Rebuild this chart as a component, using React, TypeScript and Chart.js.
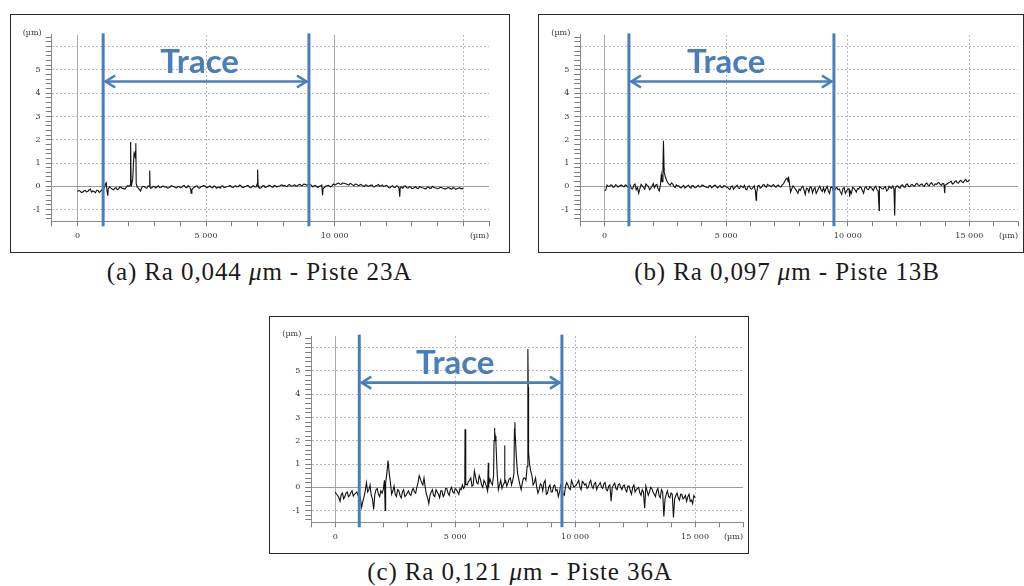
import React, { useEffect, useRef } from "react";
import { Chart, registerables } from "chart.js";

Chart.register(...registerables);

// ---- sampling step of the profile (µm); main samples at i*STEP, mid samples at i*STEP + STEP/2 ----
const STEP = 100;

// ---- Panel (a) Ra 0,044 µm - Piste 23A : heights (µm) from 0 to 15 000 µm ----
const PROFILE_A = [
  -0.22, -0.2, -0.25, -0.18, -0.22, -0.12, -0.2, -0.28, -0.18, -0.22, -0.14,
  0.12, -0.1, -0.08, -0.15, -0.05, -0.12, -0.04, -0.1, -0.03, 0.0,
  0.05, 1.4, 0.05, -0.12, -0.05, -0.02, -0.08, 0.0, -0.05, -0.02,
  -0.02, -0.06, 0.0, -0.04, -0.08, -0.03, 0.0, -0.05, -0.02, -0.06,
  0.02, -0.04, 0.03, -0.1, -0.08, 0.0, -0.06, -0.02, 0.03, -0.04,
  -0.02, -0.05, 0.0, -0.08, -0.03, 0.0, -0.06, -0.02, 0.02, -0.04,
  0.0, -0.03, 0.05, -0.04, -0.02, 0.03, -0.05, 0.0, -0.03, 0.05,
  -0.08, 0.02, -0.05, 0.0, 0.03, -0.04, 0.02, 0.0, 0.05, 0.02,
  0.0, 0.06, 0.02, 0.05, 0.0, 0.07, 0.03, 0.1, 0.05, 0.1,
  0.04, 0.02, -0.02, 0.0, 0.05, -0.05, 0.02, 0.0, 0.03, 0.06,
  0.12, 0.1, 0.14, 0.12, 0.08, 0.12, 0.06, 0.1, 0.05, 0.08,
  0.02, 0.06, 0.0, 0.04, -0.02, 0.03, 0.08, 0.02, 0.0, 0.04,
  -0.05, 0.0, -0.04, 0.02, -0.08, -0.03, 0.0, -0.06, -0.02, -0.1,
  -0.05, -0.08, -0.02, -0.06, -0.1, -0.04, -0.08, 0.0, -0.06, -0.1,
  -0.04, -0.08, -0.12, -0.05, -0.1, -0.06, -0.12, -0.08, -0.1, -0.12,
];
const MID_A = [
  -0.18, -0.26, -0.2, -0.24, -0.16, -0.25, -0.22, -0.17, -0.26, -0.15,
  -0.05, -0.2, -0.02, -0.12, -0.09, -0.14, -0.02, -0.09, -0.12, 0.03,
  0.05, 0.3, 1.5, -0.05, -0.2, 0.0, -0.06, 0.02, -0.08, 0.0,
  -0.07, 0.02, -0.05, 0.01, -0.02, -0.06, 0.03, -0.01, -0.07, 0.0,
  -0.05, 0.04, -0.06, -0.02, -0.15, -0.04, 0.02, -0.08, 0.0, 0.02,
  -0.06, 0.02, -0.07, 0.01, -0.05, -0.08, 0.02, -0.04, -0.01, 0.03,
  -0.05, 0.02, -0.02, 0.04, -0.06, 0.0, 0.02, -0.06, 0.03, -0.02,
  -0.03, -0.06, 0.04, -0.03, 0.05, -0.02, 0.04, -0.03, 0.0, 0.06,
  0.04, -0.01, 0.07, 0.01, 0.06, 0.02, 0.08, 0.04, 0.09, 0.06,
  0.08, -0.03, 0.04, -0.05, 0.02, -0.1, 0.0, 0.04, -0.02, 0.1,
  0.08, 0.14, 0.08, 0.13, 0.1, 0.05, 0.1, 0.02, 0.09, 0.03,
  0.06, -0.01, 0.05, 0.02, 0.06, -0.03, 0.05, 0.0, 0.06, 0.01,
  0.02, -0.07, 0.03, -0.06, 0.0, -0.05, -0.09, 0.02, -0.08, -0.03,
  -0.08, -0.02, -0.1, -0.04, -0.07, -0.11, -0.03, -0.09, -0.04, -0.07,
  -0.08, -0.05, -0.09, -0.1, -0.06, -0.12, -0.07, -0.11, -0.06, -0.09,
];
// narrow peaks / pits [x µm, height µm]
const PEAKS_A: [number, number][] = [
  [1120, 0.15], [1180, -0.4], [2060, 0.25], [2075, 1.9], [2090, 0.02],
  [2180, 1.0], [2230, 1.3], [2270, 1.85], [2285, 0.1],
  [2810, 0.68], [2825, -0.05], [4420, -0.3], [6990, 0.1], [7010, 0.72],
  [7025, 0.02], [9530, -0.38], [12530, -0.45],
];

// ---- Panel (b) Ra 0,097 µm - Piste 13B ----
const PROFILE_B = [
  -0.2, 0.05, 0.0, 0.05, -0.02, 0.04, 0.0, 0.05, -0.03, 0.04, 0.0,
  -0.1, 0.05, -0.15, -0.3, 0.08, -0.05, 0.1, 0.0, -0.08, 0.12,
  0.05, -0.12, 0.1, 0.9, 0.4, 0.15, 0.05, 0.1, -0.05, 0.02,
  -0.05, 0.0, -0.08, 0.02, -0.04, 0.03, -0.06, 0.0, -0.03, 0.05,
  0.0, -0.05, 0.02, -0.06, 0.04, -0.02, 0.0, -0.05, 0.02, -0.03,
  -0.1, -0.02, -0.12, 0.0, -0.08, 0.03, -0.05, -0.12, 0.0, -0.1,
  -0.05, -0.2, 0.02, -0.08, 0.05, 0.0, 0.08, 0.02, 0.05, 0.0,
  0.04, -0.02, 0.06, 0.2, 0.35, 0.15, -0.1, -0.05, -0.2, -0.12,
  -0.05, -0.15, -0.08, -0.25, -0.05, -0.12, -0.3, -0.08, -0.15, -0.05,
  -0.1, -0.2, -0.05, -0.18, -0.08, -0.15, -0.25, -0.1, -0.3, -0.12,
  -0.2, -0.05, -0.15, -0.1, -0.02, -0.18, -0.06, -0.12, -0.02, -0.1,
  -0.05, -0.15, -0.02, -0.1, -0.05, -0.2, 0.0, -0.08, -0.12, 0.0,
  -0.05, 0.05, -0.02, 0.08, 0.0, 0.06, 0.02, 0.1, 0.05, 0.08,
  0.02, 0.1, 0.05, 0.12, 0.06, 0.1, 0.14, 0.08, 0.12, 0.05,
  0.12, 0.18, 0.1, 0.2, 0.15, 0.22, 0.18, 0.25, 0.2, 0.28,
];
const MID_B = [
  -0.15, 0.0, 0.06, -0.04, 0.07, -0.03, 0.04, 0.01, 0.06, -0.04,
  0.06, -0.12, 0.1, -0.05, -0.1, 0.02, -0.12, 0.04, -0.14, 0.0,
  -0.06, 0.08, -0.2, 0.35, 0.6, 0.25, 0.08, 0.15, 0.0, 0.06,
  0.02, -0.07, 0.04, -0.03, 0.05, -0.08, 0.02, -0.05, 0.04, -0.02,
  0.04, -0.02, -0.06, 0.03, -0.03, 0.05, -0.07, 0.03, -0.06, 0.02,
  -0.04, -0.14, 0.02, -0.06, 0.05, -0.1, -0.02, 0.04, -0.15, 0.02,
  -0.12, 0.02, -0.3, 0.04, -0.05, 0.08, -0.04, 0.04, -0.02, 0.07,
  -0.04, 0.05, -0.03, 0.1, 0.3, 0.2, -0.25, 0.02, -0.12, -0.3,
  -0.18, 0.0, -0.35, -0.1, -0.02, -0.28, -0.05, -0.2, 0.0, -0.22,
  -0.25, 0.0, -0.3, -0.02, -0.2, -0.05, -0.12, -0.35, -0.05, -0.2,
  -0.1, -0.3, -0.08, -0.25, -0.12, -0.06, -0.3, -0.02, -0.15, -0.05,
  -0.18, 0.0, -0.2, -0.05, -0.12, -0.02, -0.15, -0.05, 0.02, -0.1,
  0.02, -0.08, 0.06, -0.04, 0.1, -0.02, 0.08, 0.0, 0.12, 0.02,
  0.1, 0.0, 0.14, 0.02, 0.15, 0.04, 0.08, 0.16, 0.04, 0.1,
  0.08, 0.15, 0.22, 0.12, 0.24, 0.14, 0.26, 0.16, 0.3, 0.22,
];
const PEAKS_B: [number, number][] = [
  [2330, 0.5], [2360, 0.2], [2420, 1.95], [2445, 0.8], [6230, -0.6],
  [7560, 0.42], [10080, -0.45], [11290, -1.04], [11930, -1.25], [13990, -0.3],
];

// ---- Panel (c) Ra 0,121 µm - Piste 36A ----
const PROFILE_C = [
  -0.2, -0.35, -0.6, -0.25, -0.4, -0.2, -0.35, -0.15, -0.3, -0.2, -0.28,
  -0.85, -0.4, 0.2, -0.1, -0.35, -0.95, -0.1, -0.3, -0.15, -0.1,
  0.2, 1.15, 0.2, -0.15, -0.3, -0.1, -0.35, -0.2, -0.4, -0.25,
  -0.3, -0.15, -0.2, 0.0, 0.5, 0.2, 0.4, -0.3, -0.7, -0.2,
  -0.35, -0.1, -0.3, -0.15, -0.4, -0.05, -0.25, -0.1, -0.2, -0.05,
  -0.2, -0.05, 0.1, 0.05, 0.1, 0.3, 0.05, 0.7, 0.2, 0.5,
  0.1, 0.3, 0.05, 0.1, 0.2, 0.5, 1.9, -0.1, 0.3, 0.1,
  0.3, 0.2, 0.4, 0.3, 2.3, 0.6, 0.1, 0.2, 0.4, 0.9,
  1.0, 0.5, 0.2, 0.0, -0.1, 0.1, 0.2, -0.3, 0.0, -0.2,
  0.05, -0.15, -0.4, 0.1, -0.3, 0.05, 0.1, -0.1, 0.15, 0.05,
  0.2, 0.0, 0.25, 0.1, -0.05, 0.2, 0.05, 0.15, -0.1, 0.12,
  0.0, 0.15, -0.1, 0.05, -0.6, 0.1, -0.05, 0.12, 0.0, 0.05,
  -0.1, 0.05, -0.15, 0.0, -0.2, -0.05, -0.25, -0.1, -0.9, -0.15,
  -0.2, -0.05, -0.3, -0.15, -0.35, -0.1, -1.25, -0.3, -0.4, -0.25,
  -1.3, -0.35, -0.45, -0.3, -0.5, -0.35, -0.4, -0.6, -0.7, -0.45,
];
const MID_C = [
  -0.3, -0.45, -0.3, -0.5, -0.25, -0.4, -0.22, -0.38, -0.25, -0.35,
  -0.5, -0.6, -0.15, -0.2, 0.1, -0.5, -0.3, -0.05, -0.4, -0.25,
  0.3, 0.6, 0.6, -0.3, 0.05, -0.4, -0.15, -0.45, -0.1, -0.35,
  -0.15, -0.35, -0.05, -0.25, 0.2, 0.35, 0.1, 0.0, -0.45, -0.35,
  -0.1, -0.4, -0.2, -0.45, -0.15, -0.3, -0.05, -0.35, 0.0, -0.25,
  -0.1, -0.3, -0.1, -0.05, 0.15, 0.25, 0.4, 0.1, 0.45, 0.15,
  0.35, 0.0, 0.2, -0.15, 0.35, 0.1, 2.4, 0.6, 0.1, -0.05,
  0.2, 0.05, 0.35, 0.1, 0.6, 1.3, 0.35, -0.1, 0.4, 0.3,
  3.0, 0.7, 0.1, 0.4, -0.25, 0.15, -0.15, 0.3, -0.25, 0.1,
  -0.2, 0.1, -0.1, -0.2, 0.05, -0.35, 0.2, -0.05, 0.3, 0.0,
  0.1, 0.3, -0.1, 0.2, 0.15, 0.0, 0.3, -0.05, 0.2, 0.05,
  0.2, -0.05, 0.2, -0.15, 0.1, 0.0, 0.18, -0.1, 0.15, -0.1,
  0.1, -0.2, 0.05, -0.3, 0.1, -0.1, 0.0, -0.35, -0.2, 0.05,
  -0.35, 0.0, -0.2, -0.4, -0.05, -0.45, -0.2, -0.5, -0.15, -0.45,
  -0.3, -0.5, -0.25, -0.55, -0.3, -0.45, -0.6, -0.3, -0.55, -0.35,
];
const PEAKS_C: [number, number][] = [
  [2080, -1.0], [5410, 2.5], [5430, 0.1],
  [6380, 1.05], [6395, 0.0], [6620, 2.0], [6640, 2.55], [6670, 2.2],
  [7060, 1.8], [7075, 0.3], [7470, 2.5], [7490, 2.8],
  [8030, 5.95], [8045, 4.3], [8070, 1.5],
];

// ---- axes ----
const Y_MIN = -1.5;
const Y_MAX = 6.5;
const Y_LABELS = [-1, 0, 1, 2, 3, 4, 5];
const X_MIN = -1000;
const X_STEP = 1000;

// ---- captions ----
const CAPTIONS = [
  { tag: "(a)", ra: "0,044", piste: "23A" },
  { tag: "(b)", ra: "0,097", piste: "13B" },
  { tag: "(c)", ra: "0,121", piste: "36A" },
];

const BLUE = "#4a7ebb";
const TICK_FONT = { family: "'DejaVu Serif', serif", size: 8 };

function buildProfile(base: number[], mid: number[], extra: [number, number][]) {
  const byX = new Map<number, number>();
  base.forEach((y, i) => byX.set(i * STEP, y));
  mid.forEach((y, i) => byX.set(i * STEP + STEP / 2, y));
  extra.forEach(([x, y]) => byX.set(x, y));
  return Array.from(byX.entries())
    .map(([x, y]) => ({ x, y }))
    .sort((a, b) => a.x - b.x);
}

function fmtX(v: number) {
  if (v === 0) return "0";
  return `${Math.round(v / 1000)} 000`;
}

type PanelProps = {
  left: number;
  top: number;
  width: number;
  height: number;
  profile: number[];
  mid: number[];
  peaks: [number, number][];
  xMax: number;
  labelMax: number;
  solidX: number[];
  traceStart: number;
  traceEnd: number;
  traceLabelX: number;
  padTop: number;
  padRight: number;
  yWidth: number;
  xHeight: number;
};

function Panel(p: PanelProps) {
  const ref = useRef<HTMLCanvasElement | null>(null);
  useEffect(() => {
    if (!ref.current) return;
    const points = buildProfile(p.profile, p.mid, p.peaks);
    const overlay = {
      id: "overlay",
      afterDatasetsDraw(chart: any) {
        const { ctx, chartArea } = chart;
        const xs = chart.scales.x;
        const ys = chart.scales.y;
        ctx.save();
        ctx.strokeStyle = BLUE;
        ctx.lineWidth = 3;
        const x1 = xs.getPixelForValue(p.traceStart);
        const x2 = xs.getPixelForValue(p.traceEnd);
        [x1, x2].forEach((xx) => {
          ctx.beginPath();
          ctx.moveTo(xx, chartArea.top - 1.5);
          ctx.lineTo(xx, chartArea.bottom + 5);
          ctx.stroke();
        });
        const ya = ys.getPixelForValue(4.5);
        ctx.lineWidth = 2.6;
        ctx.beginPath();
        ctx.moveTo(x1 + 2, ya);
        ctx.lineTo(x2 - 2, ya);
        ctx.stroke();
        ctx.beginPath();
        ctx.moveTo(x1 + 12, ya - 6);
        ctx.lineTo(x1 + 2.5, ya);
        ctx.lineTo(x1 + 12, ya + 6);
        ctx.moveTo(x2 - 12, ya - 6);
        ctx.lineTo(x2 - 2.5, ya);
        ctx.lineTo(x2 - 12, ya + 6);
        ctx.stroke();
        ctx.fillStyle = BLUE;
        ctx.font = "bold 33px Lato, 'Open Sans', sans-serif";
        ctx.textAlign = "center";
        ctx.textBaseline = "alphabetic";
        ctx.fillText("Trace", xs.getPixelForValue(p.traceLabelX), ys.getPixelForValue(4.85));
        ctx.restore();
      },
      afterDraw(chart: any) {
        const { ctx, chartArea } = chart;
        ctx.save();
        ctx.fillStyle = "#333";
        ctx.font = "8px 'DejaVu Serif', serif";
        ctx.textAlign = "right";
        ctx.textBaseline = "middle";
        ctx.fillText("(\u00b5m)", chartArea.left - 10, chartArea.top - 2);
        ctx.fillText("(\u00b5m)", chartArea.right, chartArea.bottom + 15);
        ctx.restore();
      },
    };
    const yTicks = Array.from({ length: 40 }, (_, i) => Math.round((-1.4 + 0.2 * i) * 10) / 10);
    const chart = new Chart(ref.current, {
      type: "line",
      data: {
        datasets: [
          {
            data: points,
            borderColor: "#111",
            borderWidth: 1.1,
            pointRadius: 0,
            tension: 0,
            fill: false,
          },
        ],
      },
      options: {
        animation: false,
        responsive: false,
        maintainAspectRatio: false,
        events: [],
        layout: { padding: { left: 0, top: p.padTop, right: p.padRight, bottom: 0 } },
        plugins: { legend: { display: false }, tooltip: { enabled: false } },
        scales: {
          x: {
            type: "linear",
            min: X_MIN,
            max: p.xMax,
            afterFit: (s: any) => {
              s.height = p.xHeight;
            },
            ticks: {
              stepSize: X_STEP,
              autoSkip: false,
              maxRotation: 0,
              minRotation: 0,
              padding: 5,
              color: "#333",
              font: TICK_FONT,
              callback: (v: any) => {
                const n = Number(v);
                return n >= 0 && n <= p.labelMax && n % 5000 === 0 ? fmtX(n) : "";
              },
            },
            grid: {
              color: (ctx: any) => {
                const v = ctx.tick ? ctx.tick.value : NaN;
                if (!(v >= 0 && v <= 15000 && v % 5000 === 0)) return "rgba(0,0,0,0)";
                return p.solidX.includes(v) ? "#a9a9a9" : "#b9b9b9";
              },
              tickColor: "#7d7d7d",
              tickLength: 5,
              lineWidth: 1,
            },
            border: {
              color: "#8a8a8a",
              width: 1,
              dash: (ctx: any) => (ctx.tick && !p.solidX.includes(ctx.tick.value) ? [2, 2] : []),
            },
          },
          y: {
            type: "linear",
            min: Y_MIN,
            max: Y_MAX,
            afterBuildTicks: (s: any) => {
              s.ticks = yTicks.map((v) => ({ value: v }));
            },
            afterFit: (s: any) => {
              s.width = p.yWidth;
            },
            ticks: {
              autoSkip: false,
              padding: 5,
              color: "#333",
              font: TICK_FONT,
              callback: (v: any) => {
                const r = Math.round(Number(v) * 10) / 10;
                return Y_LABELS.includes(r) ? String(r) : "";
              },
            },
            grid: {
              color: (ctx: any) => {
                if (!ctx.tick) return "rgba(0,0,0,0)";
                const r = Math.round(ctx.tick.value * 10) / 10;
                if (r === 0) return "#9c9c9c";
                return Number.isInteger(r) ? "#b9b9b9" : "rgba(0,0,0,0)";
              },
              tickColor: "#7d7d7d",
              tickLength: 6,
              lineWidth: 1,
            },
            border: {
              color: "#8a8a8a",
              width: 1,
              dash: (ctx: any) => {
                if (!ctx.tick) return [];
                const r = Math.round(ctx.tick.value * 10) / 10;
                return r === 0 ? [] : [2, 2];
              },
            },
          },
        },
      },
      plugins: [overlay],
    } as any);
    return () => chart.destroy();
  }, []);
  const innerW = p.width - 2;
  const innerH = p.height - 2;
  return (
    <div
      style={{
        position: "absolute",
        left: p.left,
        top: p.top,
        width: p.width,
        height: p.height,
        border: "1px solid #2a2a2a",
        boxSizing: "border-box",
        background: "#fff",
      }}
    >
      <canvas ref={ref} width={innerW} height={innerH} style={{ display: "block", width: innerW, height: innerH }} />
    </div>
  );
}

function Caption({ idx, cx, cy }: { idx: number; cx: number; cy: number }) {
  const c = CAPTIONS[idx];
  return (
    <div
      style={{
        position: "absolute",
        left: cx - 250,
        top: cy - 15,
        width: 500,
        height: 30,
        lineHeight: "30px",
        textAlign: "center",
        fontFamily: "'Liberation Serif', 'Times New Roman', serif",
        fontSize: 25,
        letterSpacing: "0.9px",
        color: "#1a1a1a",
        whiteSpace: "nowrap",
      }}
    >
      {c.tag} Ra {c.ra} <i>μ</i>m - Piste {c.piste}
    </div>
  );
}

export default function App() {
  return (
    <div style={{ position: "absolute", left: 0, top: 0, width: 1024, height: 586, overflow: "hidden", background: "#fff" }}>
      <Panel
        left={10} top={14} width={500} height={239}
        profile={PROFILE_A} mid={MID_A} peaks={PEAKS_A}
        xMax={16000} labelMax={10000} solidX={[0, 10000]}
        traceStart={1000} traceEnd={9000} traceLabelX={4750}
        padTop={19.9} padRight={20} yWidth={40.7} xHeight={30.75}
      />
      <Panel
        left={538} top={14} width={486} height={239}
        profile={PROFILE_B} mid={MID_B} peaks={PEAKS_B}
        xMax={17000} labelMax={15000} solidX={[0]}
        traceStart={1000} traceEnd={9430} traceLabelX={5000}
        padTop={19.9} padRight={5} yWidth={41.3} xHeight={30.75}
      />
      <Panel
        left={269} top={316} width={480} height={238}
        profile={PROFILE_C} mid={MID_C} peaks={PEAKS_C}
        xMax={17000} labelMax={15000} solidX={[0]}
        traceStart={1000} traceEnd={9450} traceLabelX={5000}
        padTop={19.1} padRight={0} yWidth={41.3} xHeight={30.8}
      />
      <Caption idx={0} cx={259.5} cy={272} />
      <Caption idx={1} cx={787} cy={272} />
      <Caption idx={2} cx={520} cy={572} />
    </div>
  );
}
